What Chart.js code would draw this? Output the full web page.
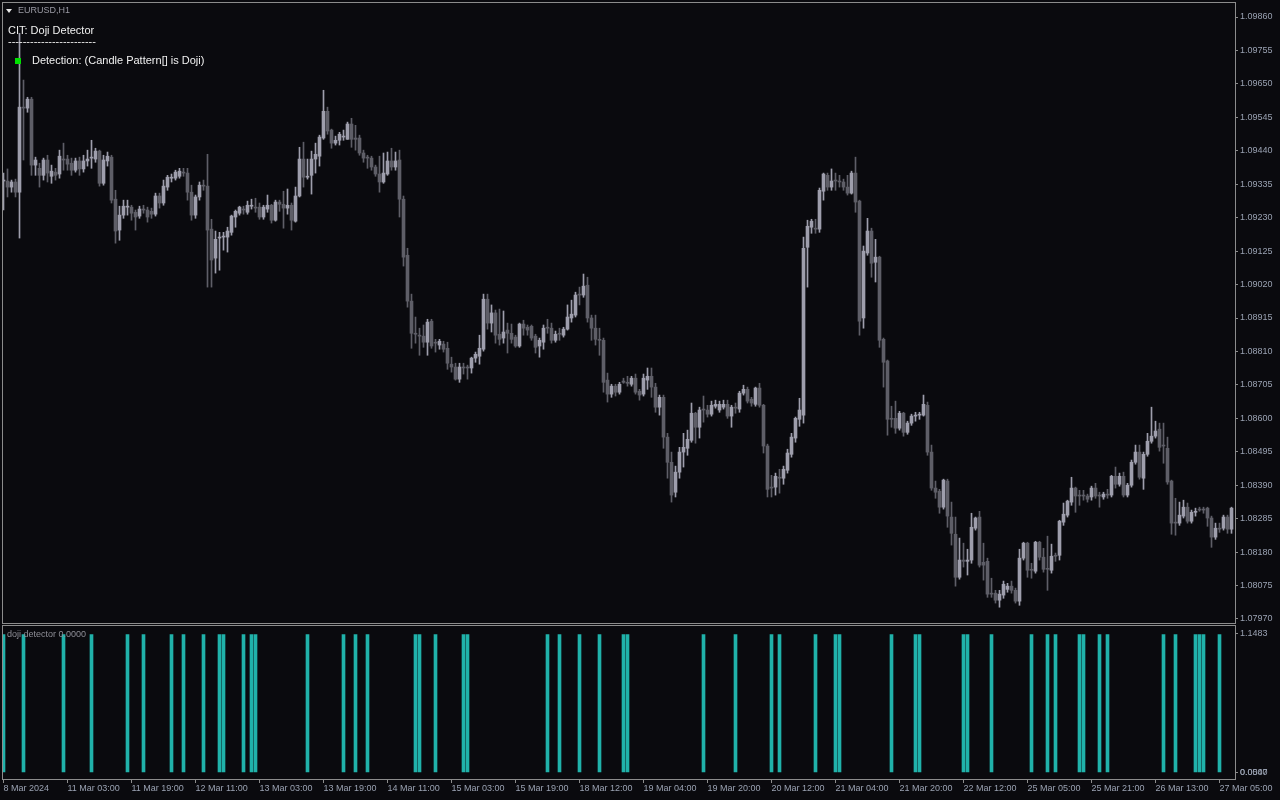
<!DOCTYPE html>
<html>
<head>
<meta charset="utf-8">
<script src="https://cdn.jsdelivr.net/npm/chart.js@4.4.0/dist/chart.umd.min.js"></script>
<style>
  html, body { margin: 0; padding: 0; background: #0a0a0e; overflow: hidden; }
  #wrap { position: relative; width: 1280px; height: 800px; }
  canvas { position: absolute; left: 0; }
  #main { top: 0; }
  #ind { top: 624px; }
  .lbl { position: absolute; font-family: "Liberation Sans", Arial, sans-serif; white-space: pre; line-height: 1; }
</style>
</head>
<body>
<div id="wrap">
  <canvas id="main" width="1280" height="624"></canvas>
  <canvas id="ind" width="1280" height="176"></canvas>
  <div style="position:absolute;left:6px;top:9px;width:0;height:0;border-left:3px solid transparent;border-right:3px solid transparent;border-top:4px solid #e8e8e8;"></div>
  <div class="lbl" style="left:18px;top:6px;font-size:9px;color:#9a9aa4;">EURUSD,H1</div>
  <div class="lbl" style="left:8px;top:25px;font-size:11px;color:#f0f0f0;">CIT: Doji Detector</div>
  <div class="lbl" style="left:8px;top:36px;font-size:11px;color:#f0f0f0;">------------------------</div>
  <div style="position:absolute;left:15px;top:58px;width:6px;height:6px;background:#00e000;"></div>
  <div class="lbl" style="left:32px;top:55px;font-size:11px;color:#f0f0f0;">Detection: (Candle Pattern[] is Doji)</div>
  <div class="lbl" style="left:7px;top:630px;font-size:9px;color:#8e8e96;">doji detector 0.0000</div>
</div>
<script>
// EURUSD H1 candles, one entry per bar
const opens = [1.09345,1.09345,1.09326,1.09342,1.09310,1.09577,1.09574,1.09602,1.09395,1.09385,
  1.09363,1.09411,1.09360,1.09373,1.09367,1.09414,1.09414,1.09401,1.09379,1.09408,
  1.09383,1.09408,1.09417,1.09414,1.09439,1.09338,1.09408,1.09420,1.09288,1.09191,
  1.09238,1.09263,1.09263,1.09247,1.09235,1.09257,1.09254,1.09250,1.09241,1.09298,
  1.09276,1.09326,1.09354,1.09354,1.09360,1.09373,1.09370,1.09310,1.09238,1.09295,
  1.09332,1.09329,1.09194,1.09103,1.09166,1.09169,1.09169,1.09184,1.09232,1.09244,
  1.09257,1.09247,1.09266,1.09263,1.09263,1.09232,1.09257,1.09269,1.09222,1.09279,
  1.09272,1.09260,1.09269,1.09219,1.09298,1.09414,1.09357,1.09363,1.09414,1.09423,
  1.09480,1.09564,1.09505,1.09464,1.09473,1.09483,1.09476,1.09524,1.09480,1.09480,
  1.09433,1.09420,1.09417,1.09389,1.09367,1.09342,1.09367,1.09408,1.09389,1.09411,
  1.09288,1.09112,1.08968,1.08867,1.08861,1.08858,1.08839,1.08905,1.08839,1.08830,
  1.08833,1.08820,1.08770,1.08761,1.08723,1.08761,1.08761,1.08758,1.08789,1.08795,
  1.08817,1.08974,1.08899,1.08931,1.08864,1.08852,1.08877,1.08867,1.08855,1.08827,
  1.08896,1.08886,1.08889,1.08858,1.08827,1.08839,1.08886,1.08883,1.08845,1.08867,
  1.08861,1.08880,1.08915,1.08924,1.08990,1.08987,1.09018,1.08915,1.08883,1.08848,
  1.08845,1.08720,1.08676,1.08701,1.08682,1.08717,1.08713,1.08707,1.08726,1.08685,
  1.08676,1.08720,1.08732,1.08698,1.08635,1.08666,1.08541,1.08462,1.08368,1.08431,
  1.08494,1.08506,1.08531,1.08616,1.08572,1.08629,1.08626,1.08613,1.08638,1.08626,
  1.08635,1.08644,1.08607,1.08635,1.08629,1.08679,1.08691,1.08660,1.08644,1.08695,
  1.08641,1.08513,1.08384,1.08384,1.08415,1.08412,1.08437,1.08487,1.08538,1.08597,
  1.08610,1.09137,1.09200,1.09197,1.09194,1.09313,1.09363,1.09326,1.09348,1.09345,
  1.09342,1.09326,1.09307,1.09370,1.09282,1.08915,1.09119,1.09188,1.09090,1.09106,
  1.08848,1.08780,1.08600,1.08600,1.08569,1.08616,1.08556,1.08585,1.08607,1.08610,
  1.08610,1.08641,1.08494,1.08381,1.08371,1.08321,1.08403,1.08290,1.08236,1.08101,
  1.08155,1.08151,1.08155,1.08255,1.08290,1.08148,1.08151,1.08051,1.08051,1.08029,
  1.08045,1.08063,1.08073,1.08060,1.08026,1.08161,1.08208,1.08126,1.08120,1.08211,
  1.08164,1.08129,1.08123,1.08170,1.08170,1.08274,1.08296,1.08337,1.08381,1.08359,
  1.08359,1.08356,1.08353,1.08381,1.08359,1.08353,1.08362,1.08359,1.08418,1.08393,
  1.08418,1.08359,1.08390,1.08462,1.08494,1.08412,1.08487,1.08528,1.08544,1.08566,
  1.08516,1.08506,1.08403,1.08274,1.08271,1.08293,1.08321,1.08277,1.08305,1.08315,
  1.08315,1.08318,1.08287,1.08227,1.08255,1.08255,1.08290,1.08252];

const highs = [1.09370,1.09383,1.09348,1.09351,1.09809,1.09662,1.09608,1.09608,1.09420,1.09401,
  1.09417,1.09426,1.09395,1.09385,1.09442,1.09464,1.09426,1.09417,1.09417,1.09420,
  1.09426,1.09442,1.09473,1.09448,1.09442,1.09426,1.09436,1.09426,1.09316,1.09266,
  1.09285,1.09285,1.09269,1.09254,1.09266,1.09269,1.09263,1.09260,1.09307,1.09307,
  1.09348,1.09363,1.09367,1.09379,1.09385,1.09385,1.09385,1.09332,1.09301,1.09342,
  1.09348,1.09429,1.09225,1.09188,1.09184,1.09184,1.09200,1.09238,1.09254,1.09266,
  1.09266,1.09282,1.09288,1.09291,1.09276,1.09269,1.09301,1.09272,1.09285,1.09285,
  1.09313,1.09320,1.09276,1.09326,1.09451,1.09467,1.09414,1.09439,1.09464,1.09489,
  1.09630,1.09577,1.09508,1.09486,1.09498,1.09505,1.09530,1.09542,1.09520,1.09489,
  1.09442,1.09426,1.09423,1.09395,1.09423,1.09433,1.09436,1.09448,1.09436,1.09442,
  1.09298,1.09134,1.08990,1.08918,1.08883,1.08893,1.08911,1.08911,1.08848,1.08848,
  1.08842,1.08839,1.08792,1.08773,1.08773,1.08773,1.08767,1.08792,1.08808,1.08861,
  1.08990,1.08990,1.08956,1.08940,1.08943,1.08937,1.08899,1.08896,1.08861,1.08899,
  1.08908,1.08893,1.08893,1.08864,1.08852,1.08893,1.08911,1.08899,1.08874,1.08883,
  1.08886,1.08956,1.08971,1.08996,1.09012,1.09053,1.09043,1.08924,1.08924,1.08883,
  1.08852,1.08742,1.08707,1.08707,1.08713,1.08726,1.08732,1.08732,1.08739,1.08691,
  1.08739,1.08758,1.08758,1.08710,1.08673,1.08673,1.08553,1.08494,1.08450,1.08509,
  1.08553,1.08563,1.08648,1.08619,1.08635,1.08670,1.08641,1.08654,1.08657,1.08654,
  1.08657,1.08657,1.08641,1.08648,1.08685,1.08704,1.08698,1.08666,1.08698,1.08710,
  1.08644,1.08519,1.08421,1.08428,1.08440,1.08450,1.08503,1.08553,1.08604,1.08663,
  1.09169,1.09222,1.09225,1.09225,1.09323,1.09370,1.09370,1.09383,1.09370,1.09363,
  1.09351,1.09363,1.09376,1.09420,1.09285,1.09141,1.09228,1.09197,1.09162,1.09109,
  1.08852,1.08783,1.08638,1.08654,1.08622,1.08619,1.08591,1.08613,1.08619,1.08619,
  1.08673,1.08651,1.08516,1.08403,1.08377,1.08409,1.08409,1.08337,1.08290,1.08224,
  1.08208,1.08189,1.08302,1.08290,1.08308,1.08208,1.08161,1.08098,1.08060,1.08060,
  1.08089,1.08082,1.08089,1.08067,1.08189,1.08211,1.08211,1.08145,1.08214,1.08214,
  1.08192,1.08230,1.08205,1.08177,1.08280,1.08334,1.08343,1.08415,1.08384,1.08374,
  1.08374,1.08362,1.08387,1.08396,1.08368,1.08368,1.08377,1.08421,1.08447,1.08428,
  1.08431,1.08396,1.08469,1.08516,1.08516,1.08494,1.08553,1.08635,1.08591,1.08585,
  1.08585,1.08541,1.08406,1.08349,1.08337,1.08343,1.08334,1.08312,1.08318,1.08321,
  1.08321,1.08321,1.08293,1.08271,1.08271,1.08296,1.08296,1.08321];

const lows = [1.09254,1.09295,1.09310,1.09295,1.09166,1.09411,1.09561,1.09363,1.09363,1.09326,
  1.09348,1.09342,1.09338,1.09348,1.09354,1.09379,1.09379,1.09363,1.09373,1.09363,
  1.09373,1.09392,1.09385,1.09404,1.09329,1.09332,1.09392,1.09276,1.09150,1.09159,
  1.09228,1.09238,1.09222,1.09191,1.09228,1.09244,1.09216,1.09228,1.09235,1.09260,
  1.09269,1.09316,1.09342,1.09348,1.09354,1.09360,1.09285,1.09222,1.09228,1.09285,
  1.09316,1.09012,1.09012,1.09056,1.09065,1.09128,1.09122,1.09175,1.09200,1.09238,
  1.09241,1.09241,1.09257,1.09247,1.09225,1.09225,1.09247,1.09213,1.09219,1.09250,
  1.09197,1.09241,1.09191,1.09216,1.09295,1.09326,1.09351,1.09304,1.09370,1.09392,
  1.09476,1.09492,1.09448,1.09458,1.09458,1.09473,1.09476,1.09451,1.09442,1.09426,
  1.09404,1.09385,1.09379,1.09360,1.09310,1.09338,1.09363,1.09379,1.09379,1.09232,
  1.09078,1.08949,1.08820,1.08836,1.08798,1.08823,1.08798,1.08820,1.08808,1.08817,
  1.08808,1.08754,1.08745,1.08720,1.08713,1.08739,1.08723,1.08742,1.08776,1.08770,
  1.08811,1.08880,1.08871,1.08836,1.08830,1.08836,1.08805,1.08836,1.08823,1.08823,
  1.08861,1.08861,1.08845,1.08805,1.08792,1.08817,1.08867,1.08836,1.08839,1.08845,
  1.08855,1.08877,1.08902,1.08918,1.08956,1.08980,1.08902,1.08845,1.08830,1.08798,
  1.08682,1.08651,1.08666,1.08670,1.08676,1.08710,1.08701,1.08701,1.08676,1.08657,
  1.08670,1.08691,1.08666,1.08619,1.08610,1.08506,1.08412,1.08337,1.08353,1.08412,
  1.08447,1.08484,1.08525,1.08522,1.08538,1.08588,1.08604,1.08607,1.08632,1.08619,
  1.08629,1.08600,1.08572,1.08616,1.08619,1.08673,1.08648,1.08638,1.08638,1.08635,
  1.08491,1.08353,1.08353,1.08359,1.08365,1.08393,1.08428,1.08478,1.08525,1.08575,
  1.08585,1.09012,1.09181,1.09181,1.09184,1.09285,1.09316,1.09316,1.09316,1.09326,
  1.09316,1.09301,1.09304,1.09247,1.08861,1.08883,1.09112,1.09043,1.09028,1.08823,
  1.08698,1.08547,1.08572,1.08553,1.08563,1.08544,1.08550,1.08578,1.08591,1.08597,
  1.08607,1.08484,1.08374,1.08349,1.08302,1.08315,1.08258,1.08202,1.08073,1.08095,
  1.08133,1.08108,1.08145,1.08249,1.08133,1.08092,1.08038,1.08038,1.08020,1.08007,
  1.08035,1.08054,1.08051,1.08020,1.08013,1.08155,1.08101,1.08098,1.08114,1.08155,
  1.08117,1.08060,1.08114,1.08151,1.08155,1.08264,1.08290,1.08327,1.08305,1.08327,
  1.08343,1.08337,1.08343,1.08349,1.08321,1.08346,1.08349,1.08353,1.08381,1.08387,
  1.08353,1.08353,1.08384,1.08456,1.08409,1.08377,1.08481,1.08522,1.08538,1.08497,
  1.08459,1.08393,1.08236,1.08233,1.08264,1.08287,1.08271,1.08271,1.08293,1.08308,
  1.08302,1.08261,1.08195,1.08220,1.08242,1.08249,1.08239,1.08239];

const closes = [1.09348,1.09326,1.09342,1.09310,1.09577,1.09574,1.09602,1.09395,1.09411,1.09363,
  1.09411,1.09370,1.09376,1.09363,1.09423,1.09411,1.09398,1.09379,1.09408,1.09383,
  1.09408,1.09414,1.09420,1.09439,1.09338,1.09411,1.09423,1.09285,1.09188,1.09238,
  1.09266,1.09266,1.09244,1.09232,1.09257,1.09254,1.09232,1.09241,1.09298,1.09276,
  1.09329,1.09357,1.09357,1.09373,1.09376,1.09370,1.09310,1.09238,1.09295,1.09332,
  1.09329,1.09191,1.09097,1.09162,1.09169,1.09172,1.09188,1.09235,1.09250,1.09263,
  1.09254,1.09269,1.09269,1.09260,1.09232,1.09263,1.09269,1.09222,1.09279,1.09272,
  1.09260,1.09269,1.09222,1.09298,1.09414,1.09357,1.09360,1.09414,1.09429,1.09483,
  1.09564,1.09502,1.09464,1.09473,1.09492,1.09486,1.09524,1.09476,1.09476,1.09433,
  1.09417,1.09417,1.09389,1.09367,1.09342,1.09370,1.09408,1.09389,1.09408,1.09288,
  1.09106,1.08968,1.08867,1.08864,1.08858,1.08839,1.08902,1.08827,1.08836,1.08842,
  1.08817,1.08773,1.08761,1.08723,1.08761,1.08758,1.08758,1.08789,1.08801,1.08820,
  1.08974,1.08899,1.08931,1.08861,1.08848,1.08871,1.08867,1.08848,1.08827,1.08896,
  1.08883,1.08877,1.08852,1.08823,1.08845,1.08883,1.08883,1.08845,1.08864,1.08864,
  1.08880,1.08918,1.08927,1.08987,1.08987,1.09015,1.08915,1.08883,1.08848,1.08845,
  1.08713,1.08676,1.08701,1.08682,1.08707,1.08713,1.08710,1.08726,1.08682,1.08673,
  1.08726,1.08732,1.08698,1.08635,1.08666,1.08541,1.08462,1.08359,1.08431,1.08494,
  1.08509,1.08534,1.08616,1.08572,1.08626,1.08626,1.08613,1.08641,1.08644,1.08644,
  1.08644,1.08607,1.08635,1.08632,1.08679,1.08691,1.08654,1.08648,1.08695,1.08641,
  1.08513,1.08377,1.08381,1.08418,1.08412,1.08440,1.08491,1.08541,1.08600,1.08626,
  1.09134,1.09203,1.09219,1.09194,1.09316,1.09367,1.09326,1.09345,1.09345,1.09342,
  1.09326,1.09307,1.09370,1.09279,1.08905,1.09125,1.09188,1.09087,1.09106,1.08845,
  1.08776,1.08597,1.08597,1.08569,1.08616,1.08556,1.08585,1.08607,1.08610,1.08613,
  1.08644,1.08494,1.08381,1.08368,1.08321,1.08406,1.08293,1.08239,1.08101,1.08155,
  1.08151,1.08155,1.08258,1.08287,1.08139,1.08139,1.08048,1.08048,1.08029,1.08048,
  1.08079,1.08073,1.08060,1.08026,1.08161,1.08208,1.08123,1.08123,1.08211,1.08164,
  1.08126,1.08126,1.08167,1.08167,1.08277,1.08299,1.08340,1.08381,1.08356,1.08356,
  1.08356,1.08346,1.08381,1.08356,1.08356,1.08362,1.08359,1.08418,1.08393,1.08418,
  1.08359,1.08390,1.08462,1.08494,1.08415,1.08487,1.08528,1.08544,1.08560,1.08509,
  1.08513,1.08400,1.08271,1.08271,1.08296,1.08321,1.08277,1.08305,1.08308,1.08312,
  1.08312,1.08287,1.08227,1.08255,1.08252,1.08290,1.08252,1.08318];

// bars flagged by the doji detector and the histogram height
const dojiBars = [0,5,15,22,31,35,42,45,50,54,55,60,62,63,76,85,88,91,103,104,108,115,116,
  136,139,144,149,155,156,175,183,192,194,203,208,209,222,228,229,240,241,247,257,261,263,
  269,270,274,276,290,293,298,299,300,304];
const dojiValue = 1.14;

// axis ticks
const priceTicks = [1.09860,1.09755,1.09650,1.09545,1.09440,1.09335,1.09230,1.09125,1.09020,
  1.08915,1.08810,1.08705,1.08600,1.08495,1.08390,1.08285,1.08180,1.08075,1.07970];
const timeTickBars = [0,16,32,48,64,80,96,112,128,144,160,176,192,208,224,240,256,272,288,304];
const timeLabels = ['8 Mar 2024','11 Mar 03:00','11 Mar 19:00','12 Mar 11:00','13 Mar 03:00',
  '13 Mar 19:00','14 Mar 11:00','15 Mar 03:00','15 Mar 19:00','18 Mar 12:00','19 Mar 04:00',
  '19 Mar 20:00','20 Mar 12:00','21 Mar 04:00','21 Mar 20:00','22 Mar 12:00','25 Mar 05:00',
  '25 Mar 21:00','26 Mar 13:00','27 Mar 05:00'];
const panelTicks = [0, 0, 1.1483];
const panelTickLabels = ['0.0000', '0.0547', '1.1483'];

const FONT = "'Liberation Sans', Arial, sans-serif";
const frameColor = '#8c8c8c';
const axisText = '#9aa2b2';
const bullColor = '#9e9eac';
const bearColor = '#5e5e67';
const dojiColor = '#20b2aa';
const xMin = -0.125, xMax = 307.875;

const bars = closes.map((c, i) => i);
const candleColors = bars.map(i => closes[i] >= opens[i] ? bullColor : bearColor);

const framePlugin = {
  id: 'frame',
  afterDraw(chart) {
    const { ctx, chartArea: a } = chart;
    ctx.save();
    ctx.strokeStyle = frameColor;
    ctx.lineWidth = 1;
    ctx.strokeRect(a.left - 0.5, a.top - 0.5, a.right - a.left + 1, a.bottom - a.top + 1);
    ctx.restore();
  }
};

const noPlugins = { legend: { display: false }, tooltip: { enabled: false } };

new Chart(document.getElementById('main'), {
  type: 'bar',
  data: {
    datasets: [
      {
        data: bars.map(i => ({ x: i, y: [opens[i], closes[i]] })),
        backgroundColor: candleColors,
        barThickness: 3,
        minBarLength: 1,
        grouped: false
      },
      {
        data: bars.map(i => ({ x: i, y: [lows[i], highs[i]] })),
        backgroundColor: candleColors,
        barThickness: 1,
        grouped: false
      }
    ]
  },
  options: {
    responsive: false,
    animation: false,
    devicePixelRatio: 1,
    layout: { padding: { left: 3, top: 3, right: 0, bottom: 1 } },
    plugins: noPlugins,
    scales: {
      x: { type: 'linear', min: xMin, max: xMax, offset: false, display: false },
      y: {
        position: 'right',
        min: 1.079574,
        max: 1.09904,
        afterBuildTicks: s => { s.ticks = priceTicks.map(v => ({ value: v })); },
        afterFit: s => { s.width = 45; s.paddingTop = 0; s.paddingBottom = 0; },
        grid: { drawOnChartArea: false, drawTicks: true, tickLength: 3, color: frameColor },
        border: { display: false },
        ticks: {
          color: axisText,
          font: { family: FONT, size: 9 },
          padding: 2,
          autoSkip: false,
          callback: v => v.toFixed(5)
        }
      }
    }
  },
  plugins: [framePlugin]
});

new Chart(document.getElementById('ind'), {
  type: 'bar',
  data: {
    datasets: [{
      data: dojiBars.map(i => ({ x: i, y: dojiValue })),
      backgroundColor: dojiColor,
      barThickness: 3,
      grouped: false
    }]
  },
  options: {
    responsive: false,
    animation: false,
    devicePixelRatio: 1,
    layout: { padding: { left: 3, top: 2, right: 0, bottom: 0 } },
    plugins: noPlugins,
    scales: {
      x: {
        type: 'linear',
        min: xMin,
        max: xMax,
        offset: false,
        position: 'bottom',
        afterBuildTicks: s => { s.ticks = timeTickBars.map(v => ({ value: v })); },
        afterFit: s => { s.height = 21; s.paddingLeft = 0; s.paddingRight = 0; },
        grid: { drawOnChartArea: false, drawTicks: true, tickLength: 4, color: frameColor, offset: false },
        border: { display: false },
        ticks: {
          align: 'start',
          color: axisText,
          font: { family: FONT, size: 9 },
          padding: 0,
          maxRotation: 0,
          autoSkip: false,
          callback: (v, i) => timeLabels[i]
        }
      },
      y: {
        position: 'right',
        min: -0.0537,
        max: 1.2103,
        afterBuildTicks: s => { s.ticks = panelTicks.map(v => ({ value: v })); },
        afterFit: s => { s.width = 45; s.paddingTop = 0; s.paddingBottom = 0; },
        grid: { drawOnChartArea: false, drawTicks: true, tickLength: 3, color: frameColor },
        border: { display: false },
        ticks: {
          color: axisText,
          font: { family: FONT, size: 9 },
          padding: 2,
          autoSkip: false,
          callback: (v, i) => panelTickLabels[i]
        }
      }
    }
  },
  plugins: [framePlugin]
});
</script>
</body>
</html>
